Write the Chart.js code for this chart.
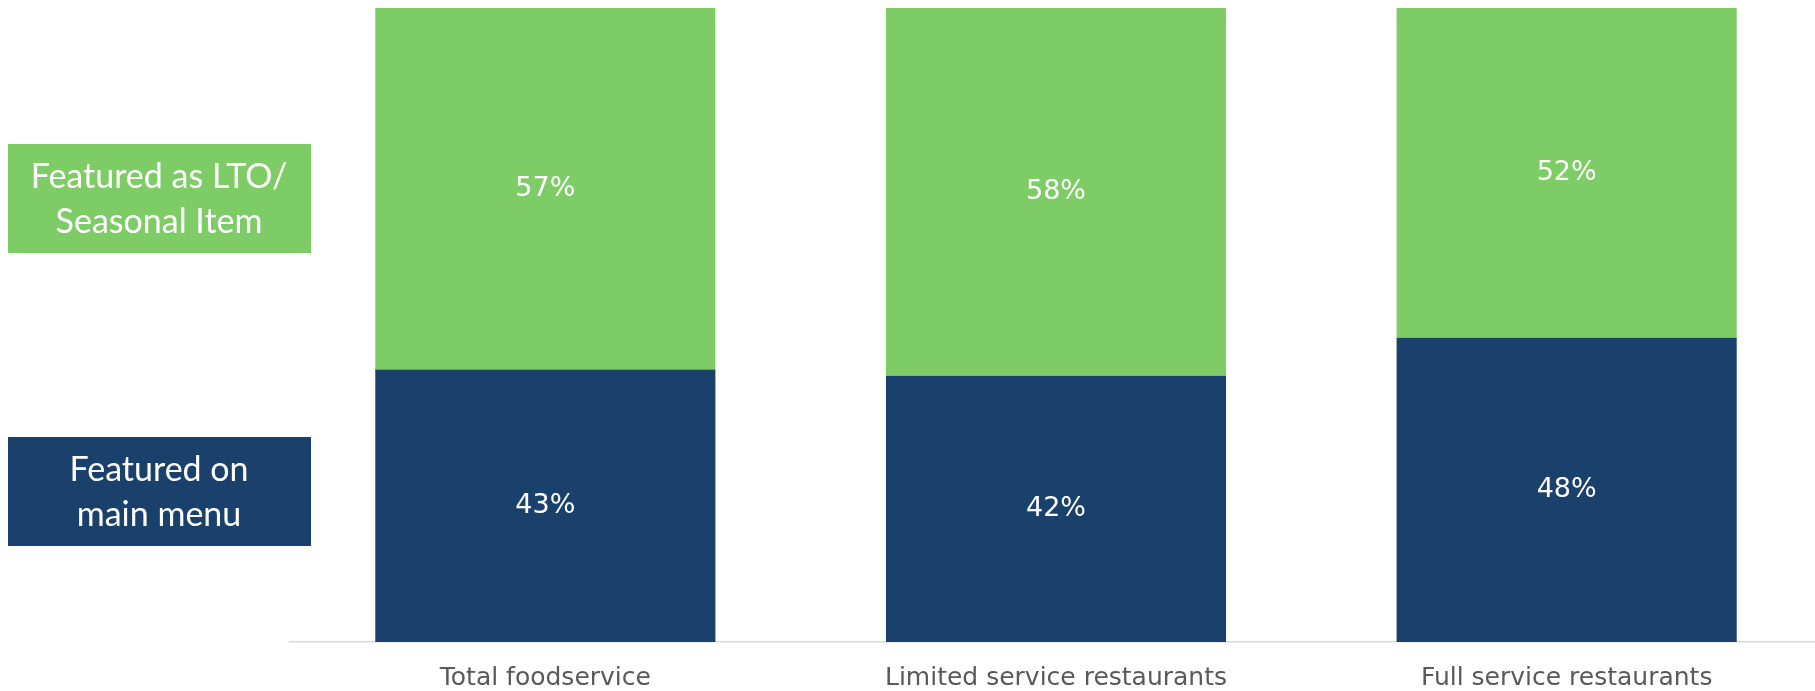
<!DOCTYPE html>
<html>
<head>
<meta charset="utf-8">
<title>Menu placement by segment</title>
<script src="https://cdn.jsdelivr.net/npm/chart.js@4/dist/chart.umd.min.js"></script>
<style>
  html, body { margin: 0; padding: 0; background: #fff; overflow: hidden; }
  #wrap { position: relative; width: 1822px; height: 691px; }
</style>
</head>
<body>
<div id="wrap"><canvas id="menuChart"></canvas></div>
<script>
// Segments and shares (%)
const segments = ['Total foodservice', 'Limited service restaurants', 'Full service restaurants'];
const mainMenu = [43, 42, 48];
const ltoSeasonal = [57, 58, 52];
const seriesNames = ['Featured on main menu', 'Featured as LTO/ Seasonal Item'];
const boxLines = [['Featured on', 'main menu'], ['Featured as LTO/', 'Seasonal Item']];

const BLUE = '#1a406c';
const GREEN = '#7ecc66';

// white percentage inside each bar segment
const valueLabels = {
  id: 'valueLabels',
  afterDatasetsDraw(chart) {
    const ctx = chart.ctx;
    ctx.save();
    ctx.fillStyle = '#ffffff';
    ctx.font = '27px "DejaVu Sans"';
    ctx.textAlign = 'center';
    ctx.textBaseline = 'middle';
    chart.data.datasets.forEach((ds, di) => {
      chart.getDatasetMeta(di).data.forEach((bar, i) => {
        const p = bar.getCenterPoint();
        ctx.fillText(ds.data[i] + '%', p.x, p.y);
      });
    });
    ctx.restore();
  }
};

// the coloured key boxes on the left
const sideKey = {
  id: 'sideKey',
  afterDraw(chart) {
    const ctx = chart.ctx;
    const boxes = [{ top: 437 }, { top: 144 }];
    ctx.save();
    chart.data.datasets.forEach((ds, di) => {
      const b = boxes[di];
      ctx.fillStyle = ds.backgroundColor;
      ctx.fillRect(8, b.top, 303, 109);
      ctx.fillStyle = '#ffffff';
      ctx.font = '34px Lato';
      ctx.textAlign = 'center';
      ctx.textBaseline = 'alphabetic';
      boxLines[di].forEach((line, li) => {
        ctx.fillText(line, 159, b.top + 44 + li * 45);
      });
    });
    ctx.restore();
  }
};

new Chart(document.getElementById('menuChart'), {
  type: 'bar',
  data: {
    labels: segments,
    datasets: [
      { label: seriesNames[0], data: mainMenu, backgroundColor: BLUE, borderWidth: 0 },
      { label: seriesNames[1], data: ltoSeasonal, backgroundColor: GREEN, borderWidth: 0 }
    ]
  },
  options: {
    responsive: true,
    maintainAspectRatio: false,
    animation: false,
    events: [],
    layout: { padding: { top: 8, left: 290, right: 0, bottom: 0 } },
    datasets: { bar: { barPercentage: 0.666, categoryPercentage: 1 } },
    plugins: { legend: { display: false }, tooltip: { enabled: false } },
    scales: {
      x: {
        stacked: true,
        grid: { display: false },
        border: { display: true, color: '#d9d9d9', width: 1.5 },
        ticks: { color: '#595959', font: { family: '"DejaVu Sans"', size: 25 }, padding: 13, maxRotation: 0 },
        afterFit(scale) { scale.height = 49; }
      },
      y: { stacked: true, display: false, min: 0, max: 100 }
    }
  },
  plugins: [valueLabels, sideKey]
});
</script>
</body>
</html>
